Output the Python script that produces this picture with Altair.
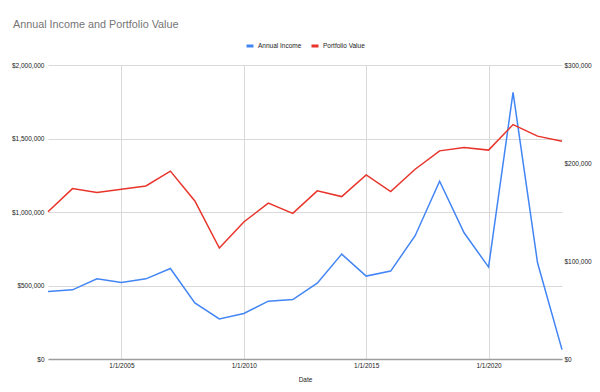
import altair as alt
import pandas as pd

years = list(range(2002, 2024))
annual_income = [68900, 70600, 81800, 78100, 81800, 92400, 57300, 40900, 46400, 59000,
                 60700, 77400, 107000, 84600, 89700, 125800, 181400, 128800, 93800, 272000,
                 98200, 9600]
portfolio_value = [1002000, 1159000, 1132000, 1155000, 1177000, 1278000, 1075000, 755000,
                   932000, 1060000, 991000, 1144000, 1105000, 1252000, 1139000, 1291000,
                   1416000, 1439000, 1421000, 1595000, 1516000, 1482000]
x_ticks = [2005, 2010, 2015, 2020]
left_ticks = [0, 500000, 1000000, 1500000, 2000000]
right_ticks = [0, 100000, 200000, 300000]
series_names = ["Annual Income", "Portfolio Value"]
series_colors = ["#4285F4", "#E8342A"]

df_income = pd.DataFrame({"year": years, "value": annual_income, "series": "Annual Income"})
df_port = pd.DataFrame({"year": years, "value": portfolio_value, "series": "Portfolio Value"})

FONT = "Liberation Sans"

color = alt.Color(
    "series:N",
    scale=alt.Scale(domain=series_names, range=series_colors),
    legend=alt.Legend(
        title=None, orient="none", direction="horizontal",
        legendX=197, legendY=-24, symbolType="stroke", symbolStrokeWidth=3,
        symbolSize=49, labelFontSize=6.5, labelFont=FONT, labelColor="#222222",
        labelOffset=3, columnPadding=3, padding=0,
    ),
)

x = alt.X(
    "year:Q",
    scale=alt.Scale(domain=[2002, 2023], nice=False, zero=False),
    axis=alt.Axis(
        title="Date", values=x_ticks, labelExpr="'1/1/' + datum.value",
        grid=True, gridColor="#d9d9d9", gridWidth=1, ticks=False,
        domainColor="#9e9e9e", domainWidth=1.5, labelFontSize=6.5, labelFont=FONT,
        labelColor="#222222", labelPadding=3, titleFontSize=6.5, titleFont=FONT,
        titleFontWeight="normal", titleColor="#222222", titlePadding=8,
    ),
)

port = alt.Chart(df_port).mark_line(strokeWidth=1.5).encode(
    x=x,
    y=alt.Y(
        "value:Q",
        scale=alt.Scale(domain=[0, 2000000], nice=False),
        axis=alt.Axis(
            title=None, values=left_ticks, format="$,.0f", grid=True,
            gridColor="#d9d9d9", gridWidth=1, ticks=False, domain=False,
            labelFontSize=6.5, labelFont=FONT, labelColor="#222222", labelPadding=4,
        ),
    ),
    color=color,
)

inc = alt.Chart(df_income).mark_line(strokeWidth=1.5).encode(
    x=x,
    y=alt.Y(
        "value:Q",
        scale=alt.Scale(domain=[0, 300000], nice=False),
        axis=alt.Axis(
            title=None, orient="right", values=right_ticks, format="$,.0f", grid=False,
            ticks=False, domain=False, labelFontSize=6.5, labelFont=FONT,
            labelColor="#222222", labelPadding=2,
        ),
    ),
    color=color,
)

chart = (
    alt.layer(inc, port)
    .resolve_scale(y="independent")
    .properties(
        width=514, height=294,
        autosize=alt.AutoSizeParams(type="none"),
        padding={"left": 40, "top": 57, "right": 30, "bottom": 25},
        title=alt.TitleParams(
            "Annual Income and Portfolio Value", anchor="start", frame="group",
            dx=-35, fontSize=10.8, font=FONT, fontWeight="normal", color="#757575",
            offset=11,
        ),
    )
    .configure_view(stroke=None)
)

chart.save("out.html", embed_options={"renderer": "svg", "actions": False})
